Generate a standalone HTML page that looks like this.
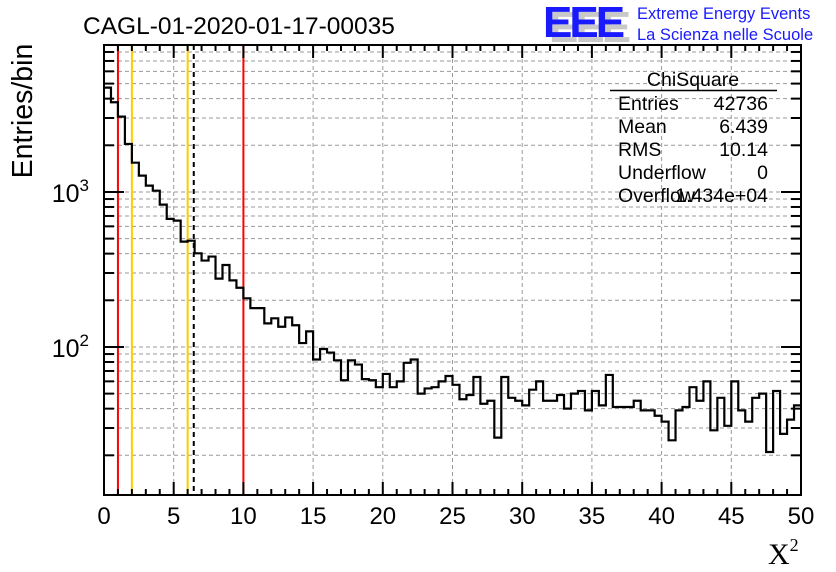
<!DOCTYPE html>
<html><head><meta charset="utf-8"><style>
body{margin:0;background:#fff;}
svg{display:block;font-family:"Liberation Sans",sans-serif;}
</style></head><body>
<svg id="chart" width="836" height="572" viewBox="0 0 836 572" xmlns="http://www.w3.org/2000/svg">
<g id="grid"></g>
<g id="marks"></g>
<g id="axes"></g>
<text x="83" y="34" font-size="24.5">CAGL-01-2020-01-17-00035</text>
<g>
<text x="549" y="42" font-size="44" font-weight="bold" fill="#c8c8c8" letter-spacing="-3">EEE</text>
<text x="543" y="37" font-size="44" font-weight="bold" fill="#1a1aff" letter-spacing="-3">EEE</text>
<text x="637" y="19" font-size="16.5" fill="#1a1aff">Extreme Energy Events</text>
<text x="637" y="40" font-size="16.5" fill="#1a1aff">La Scienza nelle Scuole</text>
</g>
<g font-size="19.5">
<text x="693" y="86" text-anchor="middle">ChiSquare</text>
<line x1="610" y1="90.5" x2="777" y2="90.5" stroke="#000" stroke-width="1.5"/>
<text x="618" y="110">Entries</text><text x="768" y="110" text-anchor="end">42736</text>
<text x="618" y="133">Mean</text><text x="768" y="133" text-anchor="end">6.439</text>
<text x="618" y="156">RMS</text><text x="768" y="156" text-anchor="end">10.14</text>
<text x="618" y="179">Underflow</text><text x="768" y="179" text-anchor="end">0</text>
<text x="618" y="202">Overflow</text><text x="768" y="202" text-anchor="end">1.434e+04</text>
</g>
<text transform="translate(32,111) rotate(-90)" text-anchor="middle" font-size="28.5">Entries/bin</text>
<text x="768" y="564" font-family="Liberation Serif,serif" font-size="30">X<tspan font-size="18" dy="-13">2</tspan></text>
</svg>
<script>
const binValues=[4710,3790,3060,2040,1545,1274,1098,1019,828,670,653,478,485,402,361,383,276,338,269,241,206,178,178,142,153,135,155,138,106,126,83,97,92,82,61,82,77,62,61,55,67,55,60,79,83,50,54,55,60,65,57,46,49,64,43,45,26,64,47,45,42,53,60,45,45,49,40,50,52,39,52,42,66,41,41,41,45,39,39,36,33,25,39,41,55,45,60,29,47,31,60,39,33,47,50,21,52,27.5,34,42];
const binWidth=0.5;
const xTickLabels=[0,5,10,15,20,25,30,35,40,45,50];
const yDecades=[100,1000];
const cutLines=[1,2,6,10];
const cutColors=["#ff0000","#ffcc00","#ffcc00","#ff0000"];
const meanValue=6.439;
const X0=104,X1=801,Y0=45,Y1=495,xmin=0,xmax=50,lmin=1.045,lmax=3.948;
const sx=v=>X0+(v-xmin)/(xmax-xmin)*(X1-X0);
const sy=v=>Y1-(Math.log10(v)-lmin)/(lmax-lmin)*(Y1-Y0);
const NS="http://www.w3.org/2000/svg";
function mk(tag,attrs,parent){const e=document.createElementNS(NS,tag);for(const k in attrs)e.setAttribute(k,attrs[k]);parent.appendChild(e);return e;}
const grid=document.getElementById('grid'),marks=document.getElementById('marks'),axes=document.getElementById('axes');
xTickLabels.forEach(t=>{if(t>0&&t<50){const l=mk('line',{x1:sx(t),x2:sx(t),y1:Y0,y2:Y1,stroke:'#999','stroke-dasharray':'4,3','stroke-width':1},grid);

}});
for(let d=1;d<=1000;d*=10){for(let m=1;m<10;m++){const v=d*m;const lv=Math.log10(v);if(lv<=lmin||lv>=lmax)continue;
const y=sy(v);const l=mk('line',{x1:X0,x2:X1,y1:y,y2:y,stroke:'#999','stroke-dasharray':'4,3','stroke-width':1},grid);


const tl=(m===1)?20:10;
const t1=mk('line',{x1:X0,x2:X0+tl,y1:y,y2:y,stroke:'#000','stroke-width':2},axes);


const t2=mk('line',{x1:X1,x2:X1-tl,y1:y,y2:y,stroke:'#000','stroke-width':2},axes);

}}
cutLines.forEach((c,i)=>{const l=mk('line',{x1:sx(c),x2:sx(c),y1:Y0,y2:Y1,stroke:cutColors[i],'stroke-width':2},marks);

});
const ml=mk('line',{x1:sx(meanValue),x2:sx(meanValue),y1:Y0,y2:Y1,stroke:'#000','stroke-width':2,'stroke-dasharray':'5,4'},marks);


let d='M'+sx(0)+','+sy(binValues[0]);
binValues.forEach((v,i)=>{const y=sy(v);d+=' L'+sx(i*binWidth)+','+y+' L'+sx((i+1)*binWidth)+','+y;});
const h=mk('path',{d:d,fill:'none',stroke:'#000','stroke-width':2.2},marks);


const fr=mk('rect',{x:X0,y:Y0,width:X1-X0,height:Y1-Y0,fill:'none',stroke:'#000','stroke-width':2},axes);


for(let t=0;t<=50;t++){const major=t%5===0;const tl=major?13:6;const x=sx(t);
const a=mk('line',{x1:x,x2:x,y1:Y1,y2:Y1-tl,stroke:'#000','stroke-width':2},axes);


const b=mk('line',{x1:x,x2:x,y1:Y0,y2:Y0+tl,stroke:'#000','stroke-width':2},axes);

}
xTickLabels.forEach(t=>{const e=mk('text',{x:sx(t),y:524,'text-anchor':'middle','font-size':24},axes);e.textContent=t;

});
yDecades.forEach(v=>{const e=mk('text',{x:89,y:sy(v)+10,'text-anchor':'end','font-size':25},axes);
e.textContent='10';const s=mk('tspan',{dy:-11,'font-size':17},e);s.textContent=Math.round(Math.log10(v));

});
</script>
</body></html>
